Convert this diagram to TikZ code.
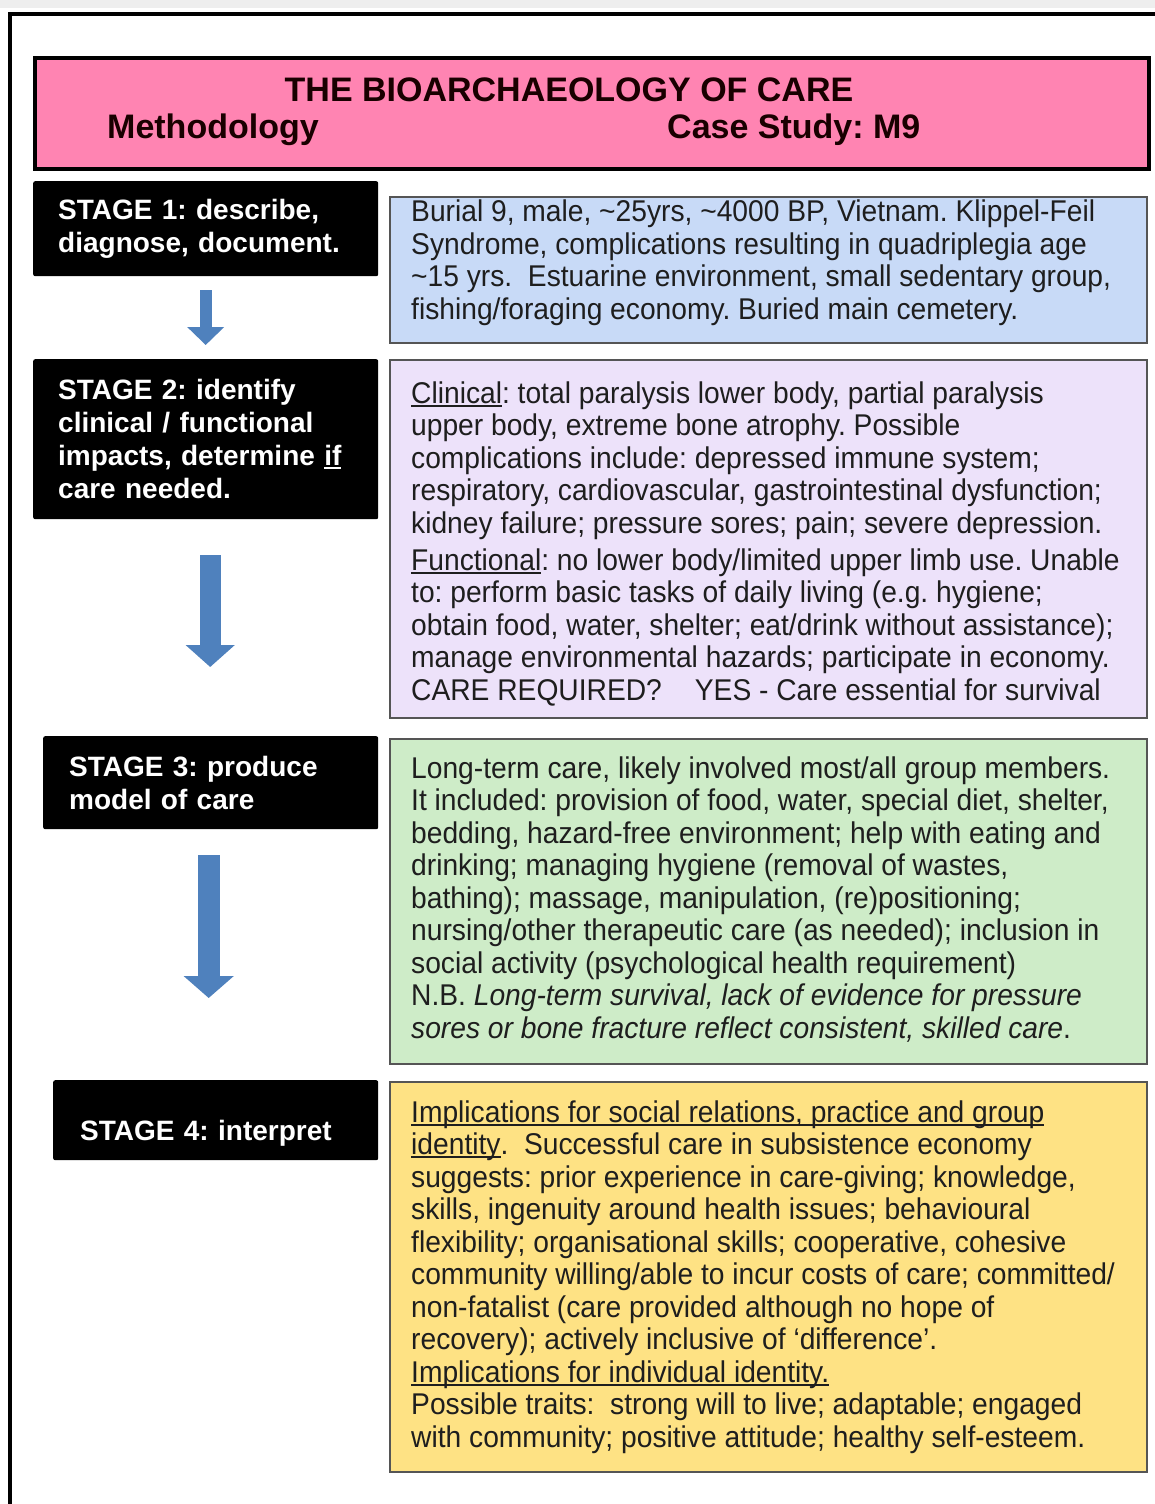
\documentclass[tikz,border=0pt]{standalone}
\usepackage{fontspec}
\setmainfont{Liberation Sans}
\newfontfamily\bodyfont[FakeStretch=0.94]{Liberation Sans}
\usetikzlibrary{arrows.meta}
\definecolor{hdrpink}{RGB}{255,132,178}
\definecolor{fblue}{RGB}{200,218,247}
\definecolor{flav}{RGB}{237,226,250}
\definecolor{fgreen}{RGB}{206,236,200}
\definecolor{fyellow}{RGB}{254,226,132}
\definecolor{arrblue}{RGB}{79,129,189}
\definecolor{boxline}{RGB}{85,85,85}
\definecolor{txt}{RGB}{30,30,30}
\definecolor{topgrey}{RGB}{238,238,238}
\newcommand\myul[1]{{\setbox0\hbox{#1}\rlap{\rule[-3.5pt]{\wd0}{1.8pt}}\box0}}
\frenchspacing
\begin{document}
\frenchspacing
\begin{tikzpicture}[x=1pt,y=-1pt,
  stagebox/.style={fill=black, rounded corners=2pt, text=white, anchor=north west, align=left,
    font=\frenchspacing\fontsize{28}{33}\selectfont\bfseries},
  infobox/.style={draw=boxline, line width=1.6pt, anchor=north west, minimum width=757pt, inner sep=0pt},
  bodytext/.style={anchor=west, align=left, inner sep=0pt, text=txt,
    font=\frenchspacing\bodyfont\fontsize{30}{32.5}\selectfont},
  hdrtext/.style={inner sep=0pt, text=black!90!red, font=\fontsize{34}{36}\selectfont\bfseries},
  flow/.style={draw=arrblue}
]
\useasboundingbox (0,0) rectangle (1155,1504);
\fill[white] (0,0) rectangle (1155,1504);
\fill[topgrey] (0,0) rectangle (1155,8);
\draw[line width=3.5pt] (10,1504) -- (10,14) -- (1155,14);

% header
\node[draw=black, line width=4pt, fill=hdrpink, anchor=north west, minimum width=1114pt, minimum height=111pt, inner sep=0pt] (hdr) at (33,56) {};
\node[hdrtext] (title) at (569,90) {THE BIOARCHAEOLOGY OF CARE};
\node[hdrtext, anchor=west] (meth) at (107,130) {Methodology};
\node[hdrtext, anchor=west] (case) at (667,130) {Case Study: M9};

% stage boxes
\node[stagebox, inner xsep=25pt, text width=295pt, minimum height=95pt] (s1) at (33,181)
  {STAGE 1: describe,\\ diagnose, document.};
\node[stagebox, inner xsep=25pt, text width=295pt, minimum height=160pt] (s2) at (33,359)
  {STAGE 2: identify\\ clinical / functional\\ impacts, determine \myul{if}\\ care needed.};
\node[stagebox, inner xsep=26pt, text width=283pt, minimum height=93pt] (s3) at (43,736)
  {STAGE 3: produce\\ model of care};
\node[stagebox, inner xsep=27pt, text width=271pt, minimum height=80pt] (s4) at (53,1080)
  {\raisebox{-20pt}[0pt][0pt]{STAGE 4: interpret}};

% arrows
\draw[flow, line width=12pt, -{Triangle[width=36pt,length=18pt]}] ([yshift=-14pt]s1.south) -- ([yshift=14pt]s2.north);
\draw[flow, line width=21pt, -{Triangle[width=48pt,length=22pt]}] ([xshift=4.5pt,yshift=-36pt]s2.south) -- ([xshift=-0.5pt,yshift=69pt]s3.north);
\draw[flow, line width=22pt, -{Triangle[width=49pt,length=22pt]}] ([xshift=-2pt,yshift=-26pt]s3.south) -- ([xshift=-7pt,yshift=82pt]s4.north);

% info boxes
\node[infobox, fill=fblue, minimum height=146pt] (b1) at (389,196) {};
\node[bodytext] (t1) at ([xshift=22pt,yshift=7pt]b1.west)
 {Burial 9, male, \textasciitilde 25yrs, \textasciitilde 4000 BP, Vietnam. Klippel-Feil\\
  Syndrome, complications resulting in quadriplegia age\\
  \textasciitilde 15 yrs.\ \ Estuarine environment, small sedentary group,\\
  fishing/foraging economy. Buried main cemetery.};

\node[infobox, fill=flav, minimum height=358pt] (b2) at (389,359) {};
\node[bodytext] (t2) at ([xshift=22pt,yshift=-5pt]b2.west)
 {\myul{Clinical}: total paralysis lower body, partial paralysis\\
  upper body, extreme bone atrophy. Possible\\
  complications include: depressed immune system;\\
  respiratory, cardiovascular, gastrointestinal dysfunction;\\
  kidney failure; pressure sores; pain; severe depression.\\[4.5pt]
  \myul{Functional}: no lower body/limited upper limb use. Unable\\
  to: perform basic tasks of daily living (e.g. hygiene;\\
  obtain food, water, shelter; eat/drink without assistance);\\
  manage environmental hazards; participate in economy.\\
  CARE REQUIRED?\hspace{1.1em}YES - Care essential for survival};

\node[infobox, fill=fgreen, minimum height=325pt] (b3) at (389,738) {};
\node[bodytext] (t3) at ([xshift=22pt,yshift=2pt]b3.west)
 {Long-term care, likely involved most/all group members.\\
  It included: provision of food, water, special diet, shelter,\\
  bedding, hazard-free environment; help with eating and\\
  drinking; managing hygiene (removal of wastes,\\
  bathing); massage, manipulation, (re)positioning;\\
  nursing/other therapeutic care (as needed); inclusion in\\
  social activity (psychological health requirement)\\
  N.B. \textit{Long-term survival, lack of evidence for pressure}\\
  \textit{sores or bone fracture reflect consistent, skilled care}.};

\node[infobox, fill=fyellow, minimum height=390pt] (b4) at (389,1081) {};
\node[bodytext] (t4) at ([xshift=22pt]b4.west)
 {\myul{Implications for social relations, practice and group}\\
  \myul{identity}.\ \ Successful care in subsistence economy\\
  suggests: prior experience in care-giving; knowledge,\\
  skills, ingenuity around health issues; behavioural\\
  flexibility; organisational skills; cooperative, cohesive\\
  community willing/able to incur costs of care; committed/\\
  non-fatalist (care provided although no hope of\\
  recovery); actively inclusive of ‘difference’.\\
  \myul{Implications for individual identity.}\\
  Possible traits:\ \ strong will to live; adaptable; engaged\\
  with community; positive attitude; healthy self-esteem.};
\end{tikzpicture}
\end{document}
